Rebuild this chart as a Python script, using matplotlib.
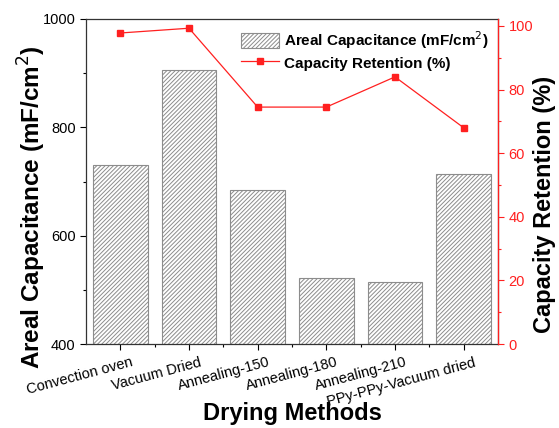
import matplotlib
matplotlib.use("Agg")
import matplotlib.pyplot as plt
from matplotlib.ticker import MultipleLocator, FixedLocator
from matplotlib.transforms import ScaledTranslation
import numpy as np

plt.rcParams['font.family'] = ['Liberation Sans', 'DejaVu Sans']
plt.rcParams['hatch.color'] = '#8c8c8c'
plt.rcParams['hatch.linewidth'] = 0.7

methods = ["Convection oven", "Vacuum Dried", "Annealing-150", "Annealing-180",
           "Annealing-210", "PPy-PPy-Vacuum dried"]
areal_capacitance = [730, 906, 684, 521, 515, 714]
capacity_retention = [97.8, 99.3, 74.5, 74.5, 84.0, 68.0]

fig = plt.figure(figsize=(5.59, 4.28), dpi=100)
ax = fig.add_axes([86 / 559, 1 - 344 / 428, (498 - 86) / 559, (344 - 19) / 428])
x = np.arange(len(methods))

bars = ax.bar(x, areal_capacitance, width=0.8, color='white', edgecolor='#8c8c8c',
              hatch='////////', linewidth=0.8)
ax.set_xlim(-0.5, 5.5)
ax.set_ylim(400, 1000)
ax.yaxis.set_major_locator(MultipleLocator(200))
ax.yaxis.set_minor_locator(MultipleLocator(100))
ax.set_xticks(x)
ax.xaxis.set_minor_locator(FixedLocator(x[:-1] + 0.5))
ax.tick_params(axis='both', which='major', direction='out', length=4, width=0.8, labelsize=10.5)
ax.tick_params(axis='both', which='minor', direction='out', length=2.5, width=0.8)
ax.tick_params(axis='x', pad=2)
ax.set_xticklabels(methods, rotation=15, ha='right', rotation_mode='anchor', fontsize=10.5)
# nudge the slanted labels so their right ends sit just past each tick
shift = ScaledTranslation(0.10, -0.03, fig.dpi_scale_trans)
for lbl in ax.get_xticklabels():
    lbl.set_transform(lbl.get_transform() + shift)
for s in ax.spines.values():
    s.set_color('#333333')
    s.set_linewidth(0.9)
ax.set_xlabel('Drying Methods', fontsize=17, fontweight='bold')
ax.xaxis.set_label_coords(0.5, (344 - 425) / 325, transform=ax.transAxes)
ax.xaxis.label.set_va('bottom')
ax.set_ylabel('Areal Capacitance (mF/cm$^2$)', fontsize=17.5, fontweight='bold')
ax.yaxis.set_label_coords((16 - 86) / 412, (344 - 207.5) / 325)
ax.yaxis.label.set_va('top')

ax2 = ax.twinx()
line, = ax2.plot(x, capacity_retention, color='#ff2020', linewidth=0.9, marker='s',
                 markersize=4)
ax2.set_ylim(0, 102.2)
ax2.yaxis.set_major_locator(MultipleLocator(20))
ax2.yaxis.set_minor_locator(MultipleLocator(10))
ax2.tick_params(axis='y', which='major', direction='out', length=4, width=0.8,
                colors='#ff2020', labelsize=10.5)
ax2.tick_params(axis='y', which='minor', direction='out', length=2.5, width=0.8,
                colors='#ff2020')
ax2.spines['right'].set_color('#ff2020')
ax2.spines['right'].set_linewidth(0.9)
ax2.spines['left'].set_visible(False)
ax2.spines['top'].set_visible(False)
ax2.spines['bottom'].set_visible(False)
ax2.set_ylabel('Capacity Retention (%)', fontsize=17, fontweight='bold')
ax2.yaxis.set_label_coords((556 - 86) / 412, (344 - 204.5) / 325)
ax2.yaxis.label.set_va('bottom')

leg = ax.legend([bars, line], ['Areal Capacitance (mF/cm$^2$)', 'Capacity Retention (%)'],
                loc='upper right', frameon=False, prop={'weight': 'bold', 'size': 11},
                handlelength=2.5, handleheight=1.2, borderaxespad=0.0, labelspacing=0.25,
                handletextpad=0.3, borderpad=0.0,
                bbox_to_anchor=((488 - 86) / 412, (344 - 29) / 325))

fig.savefig('out.png', dpi=100)
